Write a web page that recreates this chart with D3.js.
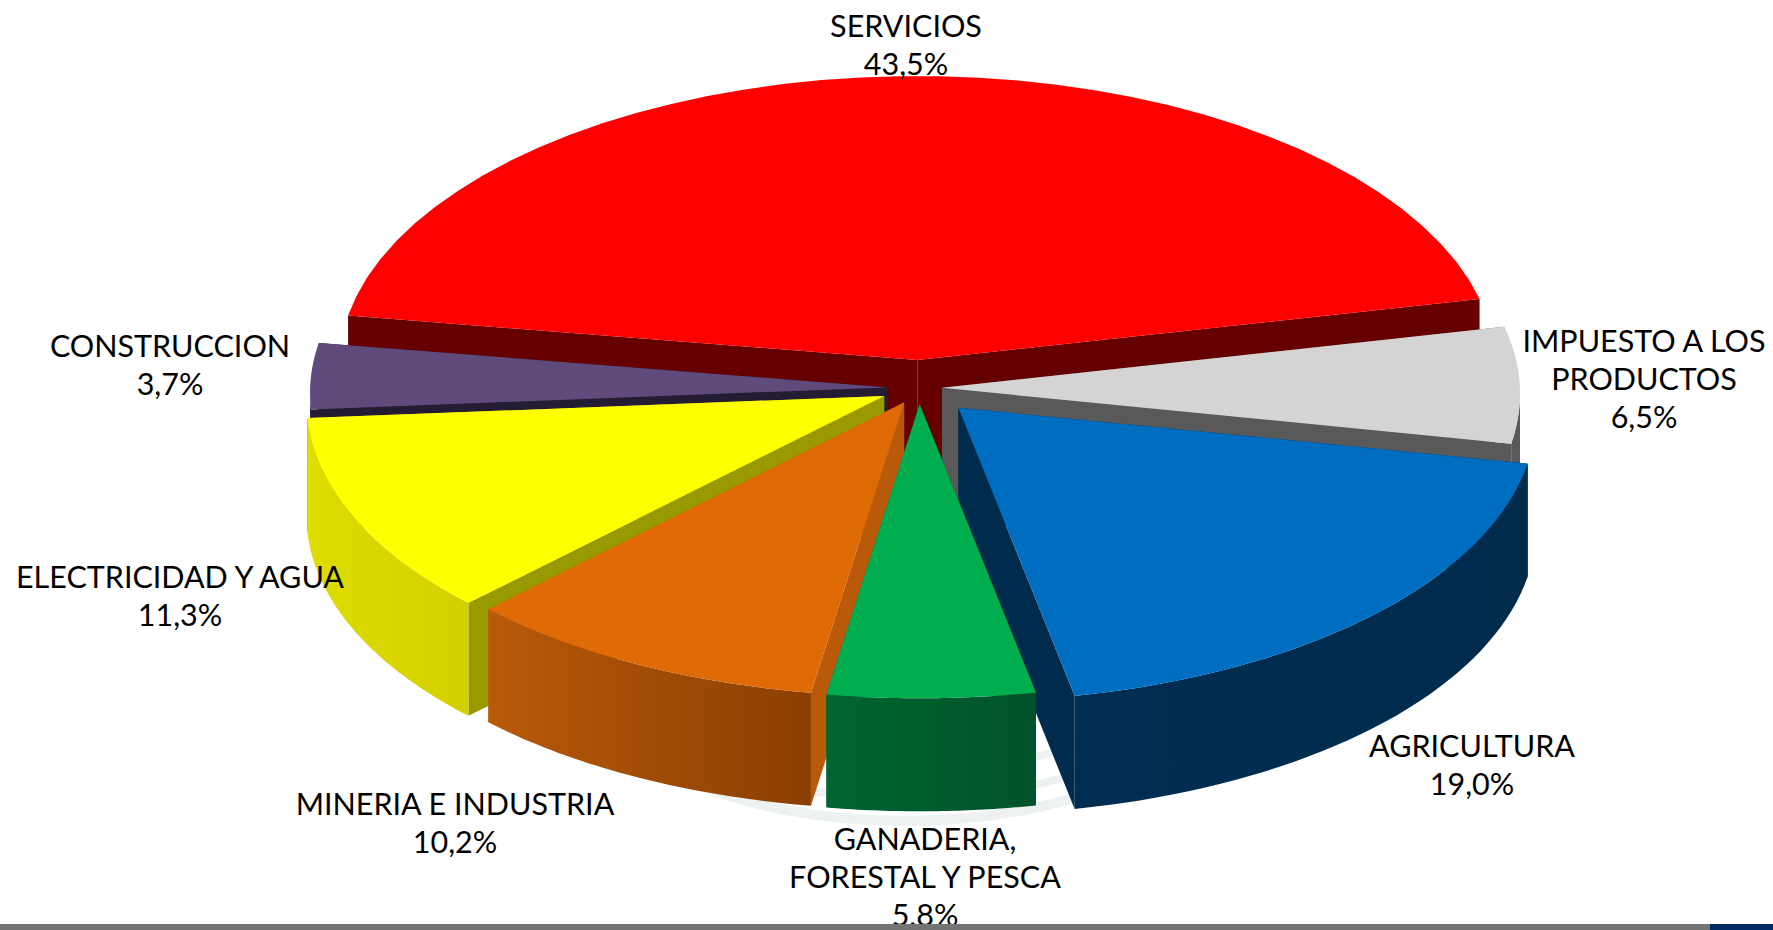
<!DOCTYPE html>
<html>
<head>
<meta charset="utf-8">
<script src="https://cdn.jsdelivr.net/npm/d3@7"></script>
<style>
  html, body { margin: 0; padding: 0; background: #fff; overflow: hidden; }
  text { font-family: Lato, 'Open Sans', sans-serif; fill: #000; }
</style>
</head>
<body>
<div id="chart"></div>
<script>
// Data, drawn clockwise starting with SERVICIOS
const categories = [
  ['SERVICIOS'],
  ['IMPUESTO A LOS', 'PRODUCTOS'],
  ['AGRICULTURA'],
  ['GANADERIA,', 'FORESTAL Y PESCA'],
  ['MINERIA E INDUSTRIA'],
  ['ELECTRICIDAD Y AGUA'],
  ['CONSTRUCCION']
];
const shares = [43.5, 6.5, 19.0, 5.8, 10.2, 11.3, 3.7];

// Colours per slice: top face, cut face, outer wall gradient left/right
const topColors = ['#ff0000', '#d4d4d4', '#006ec0', '#00ae50', '#e06a06', '#ffff00', '#604a7b'];
const cutColors = ['#660000', '#595959', '#002b4d', '#005a2a', '#b85a0a', '#999900', '#241c33'];
const wallLeft = ['#660000', '#595959', '#002d52', '#006530', '#b85a0a', '#dedc00', '#241c33'];
const wallRight = ['#660000', '#595959', '#002b4b', '#00522a', '#8a3f02', '#d4d000', '#241c33'];

// How far each slice is pulled out of the pie, px along the plate
const explode = [57, 23, 55, 32, 32, 38, 31];
// Label centres (first line) and paint order, back to front
const labelX = [906, 1644, 1472, 925, 455, 180, 170];
const labelY = [26, 341, 746, 839, 804, 577, 346];
const paintOrder = [0, 6, 1, 5, 2, 4, 3];

const width = 1773, height = 930;
const cx = 919, cy = 388;
const rx = 578, ryBack = 284, ryFront = 294, depth = 113;
const sideDrop = 5; // the rim sags a little at the sides, as in the 3D original
const fontSize = 30.5, lineStep = 38.4;
const fmt = d3.format('.1f');

const svg = d3.select('#chart').append('svg')
  .attr('width', width)
  .attr('height', height);
const defs = svg.append('defs');

// Project a plate angle (radians, 0 = back, clockwise) to the screen
function project(a, r) {
  const ry = Math.cos(a) > 0 ? ryBack : ryFront;
  return [r * rx * Math.sin(a), r * (-ry * Math.cos(a) + sideDrop * Math.sin(a) * Math.sin(a))];
}

const slices = d3.pie()
  .value(d => d)
  .sort(null)
  .startAngle(-80 * Math.PI / 180)
  .endAngle(280 * Math.PI / 180)(shares);

const linePath = d3.line();

// faint rings behind the pie
const ringGroup = svg.append('g').attr('fill', 'none').attr('stroke', '#eef1f1');
[[663, 10], [640, 8], [612, 8]].forEach(r => {
  ringGroup.append('ellipse')
    .attr('cx', 905).attr('cy', r[0]).attr('rx', 325).attr('ry', 158).attr('stroke-width', r[1]);
});

const pieGroup = svg.append('g');

paintOrder.forEach(i => {
  const s = slices[i];
  const mid = (s.startAngle + s.endAngle) / 2;
  const e = project(mid, explode[i] / rx);
  // keep the pull-out on the plate ratio
  const ox = cx + e[0], oy = cy + e[1];
  const g = pieGroup.append('g').attr('transform', `translate(${ox},${oy})`);

  const arcAngles = d3.range(0, 41).map(k => s.startAngle + (s.endAngle - s.startAngle) * k / 40);
  const rim = arcAngles.map(a => project(a, 1));

  // cut faces from the apex down
  [s.startAngle, s.endAngle].forEach(a => {
    const p = project(a, 1);
    g.append('path')
      .attr('d', linePath([[0, 0], p, [p[0], p[1] + depth], [0, depth]]) + 'Z')
      .attr('fill', cutColors[i]);
  });

  // outer wall, only the part facing the viewer
  const front = arcAngles.filter(a => Math.cos(a) <= 0.001).map(a => project(a, 1));
  if (front.length > 1) {
    const x0 = d3.min(front, p => p[0]), x1 = d3.max(front, p => p[0]);
    const id = 'wall' + i;
    const grad = defs.append('linearGradient')
      .attr('id', id)
      .attr('gradientUnits', 'userSpaceOnUse')
      .attr('x1', x0).attr('x2', x1)
      .attr('y1', 0).attr('y2', 0);
    grad.append('stop').attr('offset', 0).attr('stop-color', wallLeft[i]);
    grad.append('stop').attr('offset', 1).attr('stop-color', wallRight[i]);
    const lower = front.map(p => [p[0], p[1] + depth]).reverse();
    g.append('path')
      .attr('d', linePath(front.concat(lower)) + 'Z')
      .attr('fill', `url(#${id})`);
  }

  g.append('path')
    .attr('d', linePath([[0, 0]].concat(rim)) + 'Z')
    .attr('fill', topColors[i]);
});

// Labels
const labels = svg.append('g').attr('font-size', fontSize).attr('text-anchor', 'middle');
categories.forEach((lines, i) => {
  const t = labels.append('text').attr('x', labelX[i]).attr('y', labelY[i] + fontSize * 0.35);
  lines.concat([fmt(shares[i]).replace('.', ',') + '%']).forEach((line, k) => {
    t.append('tspan')
      .attr('x', labelX[i])
      .attr('dy', k === 0 ? 0 : lineStep)
      .text(line);
  });
});

// Footer strip of the slide
svg.append('rect').attr('x', 0).attr('y', 924).attr('width', 1710).attr('height', 6).attr('fill', '#737575');
svg.append('rect').attr('x', 1710).attr('y', 924).attr('width', 63).attr('height', 6).attr('fill', '#002a66');
</script>
</body>
</html>
